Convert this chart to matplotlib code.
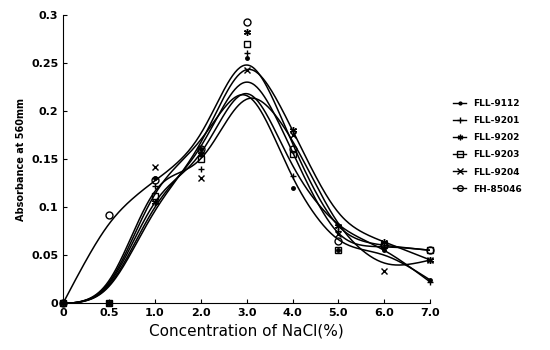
import numpy as np
import matplotlib
matplotlib.use('Agg')
from matplotlib import pyplot as plt

conc_labels = ['0', '0.5', '1.0', '2.0', '3.0', '4.0', '5.0', '6.0', '7.0']
names = ['FLL-9112', 'FLL-9201', 'FLL-9202', 'FLL-9203', 'FLL-9204', 'FH-85046']
fll_9112 = [0, 0, 0.130, 0.160, 0.255, 0.120, 0.055, 0.055, 0.024]
fll_9201 = [0, 0, 0.122, 0.140, 0.260, 0.132, 0.075, 0.058, 0.022]
fll_9202 = [0, 0, 0.105, 0.155, 0.282, 0.180, 0.080, 0.064, 0.045]
fll_9203 = [0, 0, 0.112, 0.150, 0.270, 0.155, 0.055, 0.060, 0.055]
fll_9204 = [0, 0, 0.142, 0.130, 0.243, 0.175, 0.072, 0.033, 0.045]
fh_85046 = [0, 0.092, 0.128, 0.160, 0.293, 0.160, 0.065, 0.060, 0.055]
series = [fll_9112, fll_9201, fll_9202, fll_9203, fll_9204, fh_85046]
markers = ['.', '+', (6, 2, 0), 's', 'x', 'o']

plt.rcParams['font.family'] = 'DejaVu Sans'
fig = plt.figure(figsize=(5.5, 3.5), dpi=100)
ax = fig.add_axes([0.115, 0.134, 0.667, 0.823])

pos = np.arange(len(conc_labels))
xs = np.linspace(0, 8, 300)


def smooth(x, y, bw=0.6):
    # local linear kernel smoother, stands in for the fitted curves
    y = np.asarray(y)
    out = []
    for x0 in xs:
        w = np.exp(-0.5 * ((x - x0) / bw) ** 2)
        A = np.vstack([np.ones_like(x), x - x0]).T * np.sqrt(w)[:, None]
        b = y * np.sqrt(w)
        out.append(np.linalg.lstsq(A, b, rcond=None)[0][0])
    return np.clip(out, 0, None)


for name, vals, m in zip(names, series, markers):
    ax.plot(xs, smooth(pos, vals), color='black', lw=1.1)
    fc = 'none' if m in ('s', 'o') else 'black'
    ax.plot(pos, vals, ls='none', marker=m, ms=5, mfc=fc, mec='black', mew=1, color='black', clip_on=False)
    ax.plot([], [], color='black', lw=1, marker=m, ms=4, mfc=fc, mec='black', label=name)

ax.set_xlim(0, 8)
ax.set_ylim(0, 0.3)
ax.set_xticks(pos)
ax.set_xticklabels(conc_labels, fontsize=8, fontweight='bold')
ax.set_yticks([0, 0.05, 0.1, 0.15, 0.2, 0.25, 0.3])
ax.set_yticklabels(['0', '0.05', '0.1', '0.15', '0.2', '0.25', '0.3'], fontsize=8, fontweight='bold')
ax.spines['top'].set_visible(False)
ax.spines['right'].set_visible(False)
ax.tick_params(direction='in', length=3)
ax.set_xlabel('Concentration of NaCl(%)', fontsize=11)
ax.set_ylabel('Absorbance at 560mm', fontsize=7, fontweight='bold')

fig.legend(loc='upper left', bbox_to_anchor=(0.815, 0.73), frameon=False,
           prop={'weight': 'bold', 'size': 6.5}, handlelength=1.5,
           labelspacing=0.9, borderpad=0)

fig.savefig('out.png', dpi=100)
